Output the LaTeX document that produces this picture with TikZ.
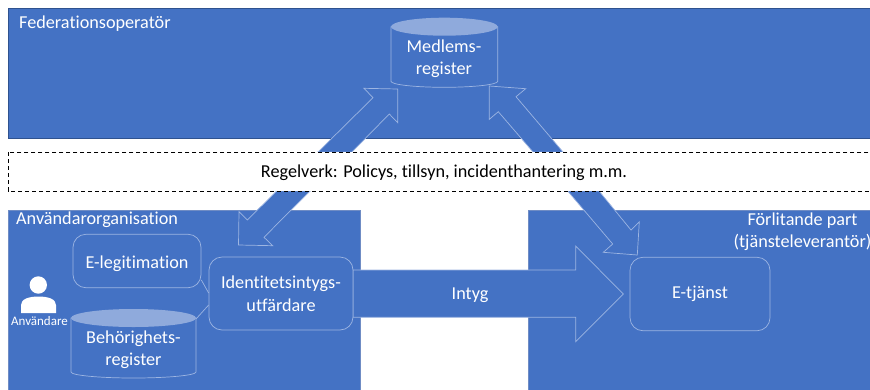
\documentclass[tikz,border=0pt]{standalone}
\usepackage{fontspec}
\setmainfont[Ligatures=NoCommon]{Carlito}
\definecolor{blu}{HTML}{4472C4}
\definecolor{edge}{HTML}{2F528F}
\definecolor{softedge}{HTML}{6F8CC4}
\definecolor{lite}{HTML}{9DB5E2}
\definecolor{cap}{HTML}{8FAADC}
\tikzset{
  x=1pt,y=-1pt,
  zone/.style={fill=blu,draw=edge,line width=0.7pt},
  softzone/.style={fill=blu,draw=softedge,line width=0.8pt},
  blockarrow/.style={fill=blu,draw=lite,line width=0.7pt,line join=miter},
  roundbox/.style={draw=lite,fill=blu,line width=0.7pt,rounded corners=13pt,text=white,align=center,font=\fontsize{18.2}{22.5}\selectfont,inner sep=0pt},
  cylbody/.style={fill=blu,draw=lite,line width=0.7pt},
  cyltop/.style={fill=cap,draw=none},
  lightlabel/.style={text=white,align=center,font=\fontsize{18.2}{22.5}\selectfont,inner sep=0pt},
  link/.style={draw=lite,line width=0.7pt},
}
\newcommand{\cylshape}[4]{% left, right, top-centre y, bottom y
  \pgfmathsetmacro{\cx}{(#1+#2)/2}\pgfmathsetmacro{\rx}{(#2-#1)/2}
  \path[cylbody] (#1,#3) -- (#1,#4-6) arc[start angle=180,end angle=360,x radius=\rx,y radius=-6] -- (#2,#3) -- cycle;
  \path[cyltop] (\cx,#3) ellipse[x radius=\rx,y radius=9];
}
\begin{document}
\begin{tikzpicture}
\useasboundingbox (0,0) rectangle (870,389);
\fill[white] (0,0) rectangle (870,389);
% zones
\path[zone] (8,8.5) rectangle (872,138);
\path[softzone] (8,210) rectangle (360,392);
\path[softzone] (528,210) rectangle (872,392);
% block arrows
\path[blockarrow] (276.7,191) -- (317.7,152) -- (351.7,152) -- (310,191) -- cycle;
\path[blockarrow] (397.7,89) -- (364,88.3) -- (373,97.7) -- (317.7,152.3) -- (351.7,152.3) -- (389.3,114) -- (397.7,122.7) -- cycle;
\path[blockarrow] (489.3,86) -- (525.7,88.7) -- (516,96.7) -- (563.3,152.3) -- (533.3,152.3) -- (498.3,111.7) -- (489.3,119.3) -- cycle;
\path[blockarrow] (238.5,245) -- (239,211.7) -- (247.3,220) -- (276.7,191) -- (310,191) -- (264,237.3) -- (272.7,245.7) -- cycle;
\path[blockarrow] (637.3,255) -- (639.3,221.7) -- (631,230) -- (599,191) -- (567.7,191) -- (612.7,244) -- (603.3,252.3) -- cycle;
\path[blockarrow] (353,270) -- (575.7,270) -- (575.7,246) -- (623.3,294) -- (575.7,341.7) -- (575.7,317.3) -- (353,317.3) -- cycle;
% band
\draw[black,fill=white,line width=0.7pt,dash pattern=on 4pt off 3pt] (8,152.3) rectangle (872,191);
\node[inner sep=0pt,font=\fontsize{18.2}{20}\selectfont,text=black] (rules) at (444,172.5) {Regelverk: Policys, tillsyn, incidenthantering m.m.};
% zone labels
\node[lightlabel,anchor=west] (fed) at (19,24) {Federationsoperatör};
\node[lightlabel,anchor=west] (org) at (16,220) {Användarorganisation};
\node[lightlabel] (rel) at (802.5,231.5) {Förlitande part\\(tjänsteleverantör)};
% cylinders
\cylshape{391}{497.7}{26.7}{87.3}
\node[lightlabel] (medlem) at (444,58.5) {Medlems-\\register};
\cylshape{71}{196}{318}{378}
\node[lightlabel] (behor) at (133.5,349.5) {Behörighets-\\register};
% boxes
\node[roundbox,minimum width=128pt,minimum height=53.5pt,text depth=0pt,yshift=0pt] (elegit) at (137,261) {\raisebox{-2pt}{E-legitimation}};
\node[roundbox,minimum width=144pt,minimum height=73pt] (issuer) at (281,293.5) {\raisebox{-1pt}{Identitetsintygs-}\\\raisebox{-1pt}{utfärdare}};
\node[roundbox,minimum width=140pt,minimum height=73.5pt] (service) at (700,294) {\raisebox{-2pt}{E-tjänst}};
\node[lightlabel] (intyg) at (470,295.5) {Intyg};
% links
\coordinate (c1) at (196,319);
\draw[link] (elegit.east |- 0,280) -- (issuer.west |- 0,293);
\draw[link] (c1) -- (issuer.west |- 0,305);
% user
\fill[white] (38.3,285) circle[radius=8.7];
\fill[white] (21,313) -- (21,305) .. controls (21,299) and (29,296.5) .. (38.5,296.5) .. controls (48,296.5) and (56,299) .. (56,305) -- (56,313) -- cycle;
\node[text=white,inner sep=0pt,font=\fontsize{13}{15}\selectfont] (user) at (39.5,321.5) {Användare};
\end{tikzpicture}
\end{document}
